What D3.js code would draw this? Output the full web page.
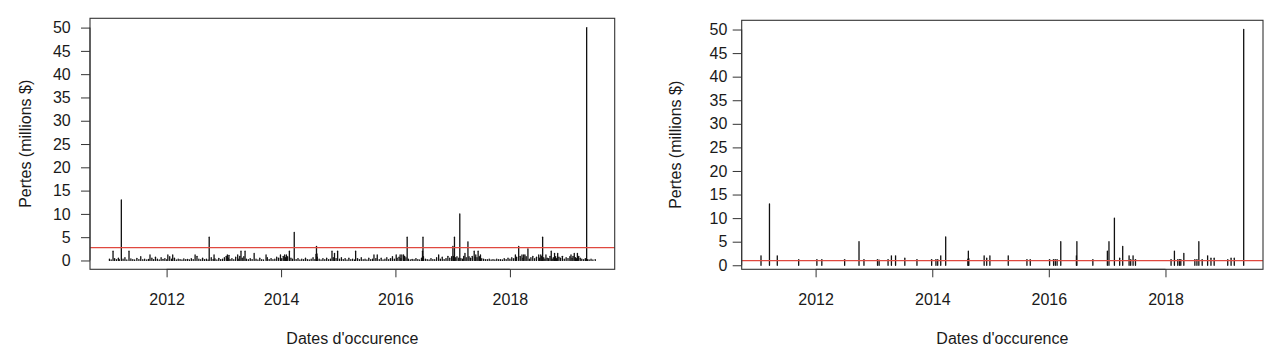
<!DOCTYPE html>
<html>
<head>
<meta charset="utf-8">
<script src="https://cdn.jsdelivr.net/npm/d3@7"></script>
<style>
  html, body { margin: 0; padding: 0; background: #fff; }
  svg { display: block; font-family: "Liberation Sans", Arial, sans-serif; }
</style>
</head>
<body>
<svg id="chart" width="1280" height="355"></svg>
<script>
// ---- DATA -------------------------------------------------------------
// Large losses (millions $) — these appear in both panels
const largeDates = [
  "2011-01-24","2011-03-18","2011-05-06","2011-09-17","2012-01-09","2012-02-09",
  "2012-07-01","2012-09-29","2012-10-30","2013-01-23","2013-02-02","2013-03-30",
  "2013-04-20","2013-05-16","2013-07-13","2013-09-27","2013-12-28","2014-01-24",
  "2014-02-04","2014-02-23","2014-03-26","2014-08-12","2014-08-15","2014-08-18",
  "2014-11-22","2014-12-08","2014-12-28","2015-04-22","2015-08-17","2015-09-07",
  "2016-01-06","2016-01-31","2016-02-11","2016-02-22","2016-03-16","2016-06-22",
  "2016-06-25","2016-10-03","2017-01-02","2017-01-12","2017-02-15","2017-03-20",
  "2017-04-08","2017-05-18","2017-05-28","2017-06-12","2017-06-27","2018-02-05",
  "2018-02-26","2018-03-19","2018-03-30","2018-04-07","2018-04-26","2018-07-04",
  "2018-07-17","2018-07-29","2018-08-19","2018-09-22","2018-10-13","2018-11-02",
  "2019-01-26","2019-02-16","2019-03-08","2019-05-06"
];
const largeValues = [
  2, 13, 2, 1.2, 1.2, 1.2,
  1.2, 5, 1.2, 1.2, 1.1, 1.2,
  2, 2, 1.5, 1.2, 1.2, 1.2,
  1.2, 2, 6, 1.3, 3, 1.4,
  2, 1.5, 2, 2, 1.2, 1.2,
  1.2, 1.2, 1.2, 1.2, 5, 2,
  5, 1.2, 3, 5, 10, 1.5,
  4, 2, 1.2, 2, 1.2, 1.2,
  3, 1.2, 1.2, 1.2, 2.5, 1.2,
  1.2, 5, 1.2, 2, 1.5, 1.5,
  1.2, 1.5, 1.5, 50
];
// Small losses (millions $) — only in the left panel (all events)
const smallDates = [
  "2011-01-01","2011-01-12","2011-02-03","2011-02-15","2011-02-27","2011-03-05","2011-03-29","2011-04-10","2011-04-22","2011-05-18","2011-05-30","2011-06-11","2011-06-25","2011-07-08","2011-07-20","2011-08-02","2011-08-14","2011-08-27","2011-09-08","2011-09-29","2011-10-10","2011-10-22","2011-11-03","2011-11-15","2011-11-27","2011-12-09","2011-12-21",
  "2012-01-02","2012-01-21","2012-02-02","2012-02-20","2012-03-03","2012-03-15","2012-03-27","2012-04-08","2012-04-20","2012-05-02","2012-05-14","2012-05-26","2012-06-07","2012-06-19","2012-07-13","2012-07-25","2012-08-06","2012-08-18","2012-08-30","2012-09-11","2012-09-22","2012-10-12","2012-10-24","2012-11-05","2012-11-17","2012-11-29","2012-12-11","2012-12-23",
  "2013-01-04","2013-01-16","2013-01-28","2013-02-09","2013-02-21","2013-03-05","2013-03-17","2013-04-02","2013-04-12","2013-04-28","2013-05-08","2013-05-25","2013-06-06","2013-06-18","2013-06-30","2013-07-25","2013-08-06","2013-08-18","2013-08-30","2013-09-11","2013-10-05","2013-10-17","2013-10-29","2013-11-10","2013-11-22","2013-12-04","2013-12-16",
  "2014-01-05","2014-01-15","2014-01-30","2014-02-12","2014-03-05","2014-03-15","2014-04-07","2014-04-19","2014-05-01","2014-05-13","2014-05-25","2014-06-06","2014-06-18","2014-06-30","2014-07-12","2014-07-24","2014-08-05","2014-08-20","2014-09-01","2014-09-13","2014-09-25","2014-10-07","2014-10-19","2014-10-31","2014-11-12","2014-11-30","2014-12-18",
  "2015-01-09","2015-01-21","2015-02-02","2015-02-14","2015-02-26","2015-03-10","2015-03-22","2015-04-03","2015-04-15","2015-05-04","2015-05-16","2015-05-28","2015-06-09","2015-06-21","2015-07-03","2015-07-15","2015-07-27","2015-08-08","2015-08-29","2015-09-20","2015-10-02","2015-10-14","2015-10-26","2015-11-07","2015-11-19","2015-12-01","2015-12-13","2015-12-25",
  "2016-01-12","2016-01-24","2016-02-05","2016-02-28","2016-03-08","2016-03-24","2016-04-05","2016-04-17","2016-04-29","2016-05-11","2016-05-23","2016-06-04","2016-06-16","2016-06-28","2016-07-10","2016-07-22","2016-08-03","2016-08-15","2016-08-27","2016-09-08","2016-09-20","2016-10-14","2016-10-26","2016-11-07","2016-11-19","2016-12-01","2016-12-13","2016-12-25",
  "2017-01-06","2017-01-20","2017-01-28","2017-02-08","2017-02-22","2017-03-04","2017-03-12","2017-03-28","2017-04-15","2017-04-25","2017-05-06","2017-05-24","2017-06-05","2017-06-20","2017-07-05","2017-07-17","2017-07-29","2017-08-10","2017-08-22","2017-09-03","2017-09-15","2017-09-27","2017-10-09","2017-10-21","2017-11-02","2017-11-14","2017-11-26","2017-12-08","2017-12-20",
  "2018-01-01","2018-01-13","2018-01-25","2018-02-13","2018-03-08","2018-03-25","2018-04-15","2018-05-05","2018-05-15","2018-05-27","2018-06-08","2018-06-20","2018-07-10","2018-07-23","2018-08-05","2018-08-12","2018-08-27","2018-09-05","2018-09-14","2018-09-28","2018-10-05","2018-10-20","2018-10-26","2018-11-10","2018-11-20","2018-12-02","2018-12-14","2018-12-26",
  "2019-01-07","2019-01-19","2019-02-02","2019-02-08","2019-02-24","2019-03-02","2019-03-16","2019-03-26","2019-04-05","2019-04-17","2019-04-28","2019-05-12","2019-05-22","2019-06-03","2019-06-15","2019-06-30"
];
const smallValues = [
  0.3,0.1,0.4,0.2,0.5,0.15,0.3,0.6,0.1,0.35,0.2,0.1,0.45,0.2,0.8,0.15,0.3,0.1,0.25,0.5,0.2,0.7,0.3,0.1,0.6,0.25,0.4,
  0.15,0.8,0.3,0.5,0.1,0.3,0.2,0.1,0.35,0.15,0.25,0.1,0.4,0.2,0.9,0.3,0.15,0.5,0.2,0.3,0.1,0.6,0.2,0.35,0.1,0.45,0.2,0.3,
  0.6,0.9,0.5,0.2,0.4,0.15,0.7,0.3,0.9,0.5,0.8,0.3,0.15,0.4,0.2,0.3,0.1,0.5,0.2,0.1,0.6,0.2,0.4,0.15,0.3,0.7,0.5,
  0.4,0.9,0.6,0.8,0.5,0.3,0.2,0.4,0.1,0.3,0.15,0.5,0.2,0.1,0.3,0.6,0.2,0.7,0.3,0.1,0.4,0.2,0.5,0.15,0.3,0.6,0.4,
  0.3,0.6,0.2,0.4,0.1,0.5,0.2,0.3,0.1,0.4,0.2,0.6,0.15,0.3,0.1,0.5,0.2,0.3,0.4,0.2,0.5,0.1,0.3,0.6,0.2,0.4,0.8,0.3,
  0.5,0.7,0.4,0.9,0.6,0.3,0.1,0.25,0.15,0.4,0.2,0.1,0.5,0.8,0.3,0.2,0.1,0.4,0.2,0.15,0.6,0.3,0.7,0.2,0.4,0.9,0.5,0.8,
  0.9,0.6,0.8,0.5,0.4,0.3,0.9,0.6,0.8,0.5,0.9,0.7,0.6,0.8,0.4,0.3,0.2,0.15,0.3,0.1,0.2,0.1,0.3,0.15,0.2,0.1,0.4,0.2,0.5,
  0.3,0.6,0.4,0.7,0.9,0.5,0.8,0.3,0.6,0.9,0.4,0.7,0.5,0.9,0.6,0.3,0.5,0.4,0.9,0.3,0.6,0.8,0.4,0.7,0.5,0.9,0.3,0.6,
  0.4,0.8,0.5,0.9,0.6,0.4,0.9,0.5,0.3,0.2,0.4,0.2,0.1,0.3,0.1,0.2
];
const thresholdLeft = 2.74;   // red line, left panel
const thresholdRight = 1.0;   // red line, right panel
const yTickValues = [0, 5, 10, 15, 20, 25, 30, 35, 40, 45, 50];
const xTickYears = [2012, 2014, 2016, 2018];
const yTitle = "Pertes (millions $)";
const xTitle = "Dates d'occurence";

// ---- BUILD ------------------------------------------------------------
const parse = d3.timeParse("%Y-%m-%d");
const large = largeDates.map((d, i) => ({ date: parse(d), value: largeValues[i] }));
const small = smallDates.map((d, i) => ({ date: parse(d), value: smallValues[i] }));
const allEvents = small.concat(large).sort((a, b) => a.date - b.date);

const svg = d3.select("#chart");
const ink = "#1a1a1a";

function padExtent(ext) {           // R-style 4% axis extension
  const r = ext[1] - ext[0];
  return [ext[0] - 0.04 * r, ext[1] + 0.04 * r];
}

const panels = [
  { data: allEvents, threshold: thresholdLeft,
    box: { l: 90, r: 614.7, t: 18.3, b: 269.3 }, yPad: 10.3, yTitleX: 25 },
  { data: large, threshold: thresholdRight,
    box: { l: 741.7, r: 1263, t: 20.3, b: 269.3 }, yPad: 5.4, yTitleX: 675 }
];

panels.forEach(p => {
  const b = p.box;
  const tExt = d3.extent(p.data, d => +d.date);
  const tDom = padExtent(tExt).map(v => new Date(v));
  const x = d3.scaleTime().domain(tDom).range([b.l, b.r]);
  const y = d3.scaleLinear().domain(padExtent(d3.extent(p.data, d => d.value))).range([b.b, b.t]);

  const g = svg.append("g");

  // bars (type = "h")
  g.append("g").selectAll("line").data(p.data).join("line")
    .attr("x1", d => x(d.date)).attr("x2", d => x(d.date))
    .attr("y1", y(0)).attr("y2", d => y(d.value))
    .attr("stroke", "#111").attr("stroke-width", 1.3).attr("stroke-linecap", "round");

  // threshold line
  g.append("line")
    .attr("x1", b.l).attr("x2", b.r)
    .attr("y1", y(p.threshold)).attr("y2", y(p.threshold))
    .attr("stroke", "#e0483f").attr("stroke-width", 1.2);

  // box
  g.append("rect")
    .attr("x", b.l).attr("y", b.t).attr("width", b.r - b.l).attr("height", b.b - b.t)
    .attr("fill", "none").attr("stroke", "#333").attr("stroke-width", 1.1);

  // y axis
  const ya = g.append("g").attr("transform", `translate(${b.l},0)`)
    .call(d3.axisLeft(y).tickValues(yTickValues).tickSize(9).tickSizeOuter(0).tickPadding(p.yPad));
  ya.select(".domain").attr("stroke", "#333").attr("d", `M0,${y(0)}V${y(50)}`);
  ya.selectAll(".tick line").attr("stroke", "#333");
  ya.selectAll(".tick text").attr("fill", ink).attr("font-size", 16)
    .attr("font-family", "Liberation Sans, Arial, sans-serif");

  // x axis
  const xTicks = xTickYears.map(yr => new Date(yr, 0, 1));
  const xa = g.append("g").attr("transform", `translate(0,${b.b})`)
    .call(d3.axisBottom(x).tickValues(xTicks).tickSize(8).tickSizeOuter(0).tickPadding(16)
      .tickFormat(d3.timeFormat("%Y")));
  xa.select(".domain").attr("stroke", "#333")
    .attr("d", `M${x(xTicks[0])},0H${x(xTicks[xTicks.length - 1])}`);
  xa.selectAll(".tick line").attr("stroke", "#333");
  xa.selectAll(".tick text").attr("fill", ink).attr("font-size", 16)
    .attr("font-family", "Liberation Sans, Arial, sans-serif");

  // titles
  g.append("text")
    .attr("x", (b.l + b.r) / 2).attr("y", 343.5)
    .attr("text-anchor", "middle").attr("font-size", 16).attr("fill", ink)
    .text(xTitle);
  g.append("text")
    .attr("transform", `translate(${p.yTitleX},${(b.t + b.b) / 2}) rotate(-90)`)
    .attr("dy", "0.35em")
    .attr("text-anchor", "middle").attr("font-size", 16).attr("fill", ink)
    .text(yTitle);
});
</script>
</body>
</html>
